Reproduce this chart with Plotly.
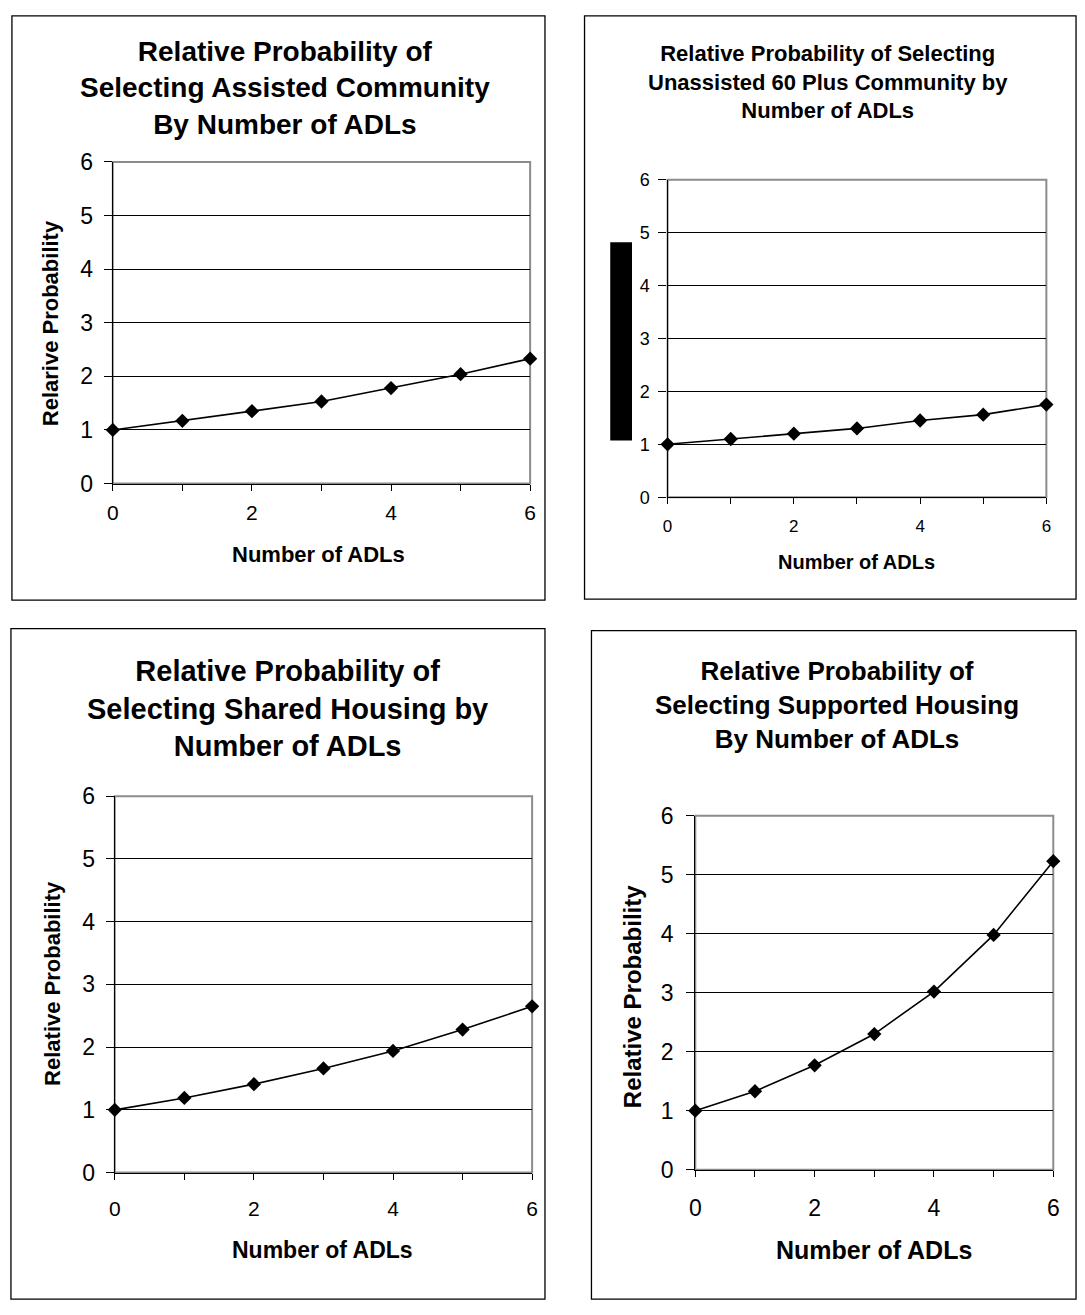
import plotly.graph_objects as go

W, H = 1085, 1315

adls = [0, 1, 2, 3, 4, 5, 6]
assisted = [1.0, 1.17, 1.35, 1.53, 1.78, 2.04, 2.33]
unassisted60 = [1.0, 1.10, 1.20, 1.30, 1.45, 1.56, 1.75]
shared = [1.0, 1.19, 1.41, 1.66, 1.94, 2.28, 2.65]
supported = [1.0, 1.33, 1.77, 2.30, 3.02, 3.98, 5.23]

titles = [
    "Relative Probability of<br>Selecting Assisted Community<br>By Number of ADLs",
    "Relative Probability of Selecting<br>Unassisted 60 Plus Community by<br>Number of ADLs",
    "Relative Probability of<br>Selecting Shared Housing by<br>Number of ADLs",
    "Relative Probability of<br>Selecting Supported Housing<br>By Number of ADLs",
]
ytitles = ["Relarive Probability", None, "Relative Probability", "Relative Probability"]
xtitle = "Number of ADLs"
series = [assisted, unassisted60, shared, supported]
xtickvals = [0, 2, 4, 6]

FONT = "Arial, Liberation Sans, sans-serif"


def px(x):
    return x / W


def py(y):
    return 1 - y / H


# geometry (pixels) for each panel
panels = [
    dict(box=(6, 3, 545, 599), plot=(108, 152, 530, 480),
         title=(282, 77, 28), ytick=23, xtick=21, ystand=6, xstand=4,
         ytitle=(45, 317, 22), xt=(316, 552, 22)),
    dict(box=(585, 3, 1082, 598), plot=(669, 170, 1052, 494),
         title=(831, 70, 22), ytick=18, xtick=17, ystand=5, xstand=7,
         ytitle=None, xt=(860, 560, 20)),
    dict(box=(5, 628, 545, 1312), plot=(110, 799, 532, 1183),
         title=(285, 710, 29), ytick=23, xtick=21, ystand=6, xstand=11,
         ytitle=(47, 990, 22), xt=(320, 1262, 23)),
    dict(box=(592, 630, 1082, 1312), plot=(697, 819, 1059, 1180),
         title=(840, 706, 26), ytick=23, xtick=23, ystand=8, xstand=12,
         ytitle=(633, 1003, 24), xt=(878, 1262, 25)),
]

fig = go.Figure()
shapes = []
annotations = []

for i, (p, ys, ttl) in enumerate(zip(panels, series, titles)):
    n = "" if i == 0 else str(i + 1)
    xa, ya = "x" + n, "y" + n
    x0, y0, x1, y1 = p["plot"]
    fig.add_trace(go.Scatter(
        x=adls, y=ys, mode="lines+markers", xaxis=xa, yaxis=ya,
        line=dict(color="black", width=1.6),
        marker=dict(symbol="diamond", size=11, color="black"),
        cliponaxis=False, showlegend=False, hoverinfo="x+y"))
    fig.layout["xaxis" + n] = dict(
        domain=[px(x0), px(x1)], anchor=ya, range=[0, 6],
        tickvals=xtickvals, showgrid=False, zeroline=False,
        showline=True, linecolor="black", linewidth=1.3,
        ticks="outside", tickcolor="black", ticklen=6, tickwidth=1,
        ticklabelstandoff=p["xstand"],
        tickfont=dict(family=FONT, size=p["xtick"], color="black"),
        minor=dict(ticks="outside", tickvals=[1, 3, 5], ticklen=6,
                   tickcolor="black", showgrid=False))
    fig.layout["yaxis" + n] = dict(
        domain=[py(y1), py(y0)], anchor=xa, range=[0, 6], dtick=1,
        showgrid=True, gridcolor="black", gridwidth=1, zeroline=False,
        showline=True, linecolor="black", linewidth=1.3,
        ticks="outside", tickcolor="black", ticklen=8, tickwidth=1,
        ticklabelstandoff=p["ystand"],
        tickfont=dict(family=FONT, size=p["ytick"], color="black"))
    # gray plot-area border (top/right)
    shapes.append(dict(type="rect", xref=xa + " domain", yref=ya + " domain",
                       x0=0, x1=1, y0=0, y1=1, line=dict(color="#8c8c8c", width=2),
                       layer="below"))
    # panel border
    bx0, by0, bx1, by1 = p["box"]
    shapes.append(dict(type="rect", xref="paper", yref="paper",
                       x0=px(bx0), x1=px(bx1), y0=py(by1), y1=py(by0),
                       line=dict(color="black", width=1.3)))
    # title
    tx, ty, ts = p["title"]
    annotations.append(dict(text="<b>" + ttl + "</b>", xref="paper", yref="paper",
                            x=px(tx), y=py(ty), xanchor="center", yanchor="middle",
                            showarrow=False, align="center",
                            font=dict(family=FONT, size=ts, color="black")))
    # x title
    xx, xy, xs = p["xt"]
    annotations.append(dict(text="<b>" + xtitle + "</b>", xref="paper", yref="paper",
                            x=px(xx), y=py(xy), xanchor="center", yanchor="middle",
                            showarrow=False,
                            font=dict(family=FONT, size=xs, color="black")))
    if ytitles[i]:
        yx, yy, yss = p["ytitle"]
        annotations.append(dict(text="<b>" + ytitles[i] + "</b>", xref="paper", yref="paper",
                                x=px(yx), y=py(yy), textangle=-90,
                                xanchor="center", yanchor="middle", showarrow=False,
                                font=dict(family=FONT, size=yss, color="black")))

# redaction bar in panel 2
shapes.append(dict(type="rect", xref="paper", yref="paper",
                   x0=px(611), x1=px(633), y0=py(436), y1=py(234),
                   fillcolor="black", line=dict(width=0)))

fig.update_layout(width=W, height=H, margin=dict(l=0, r=0, t=0, b=0),
                  paper_bgcolor="white", plot_bgcolor="white",
                  shapes=shapes, annotations=annotations,
                  font=dict(family=FONT, color="black"))

fig.write_html("out.html")
